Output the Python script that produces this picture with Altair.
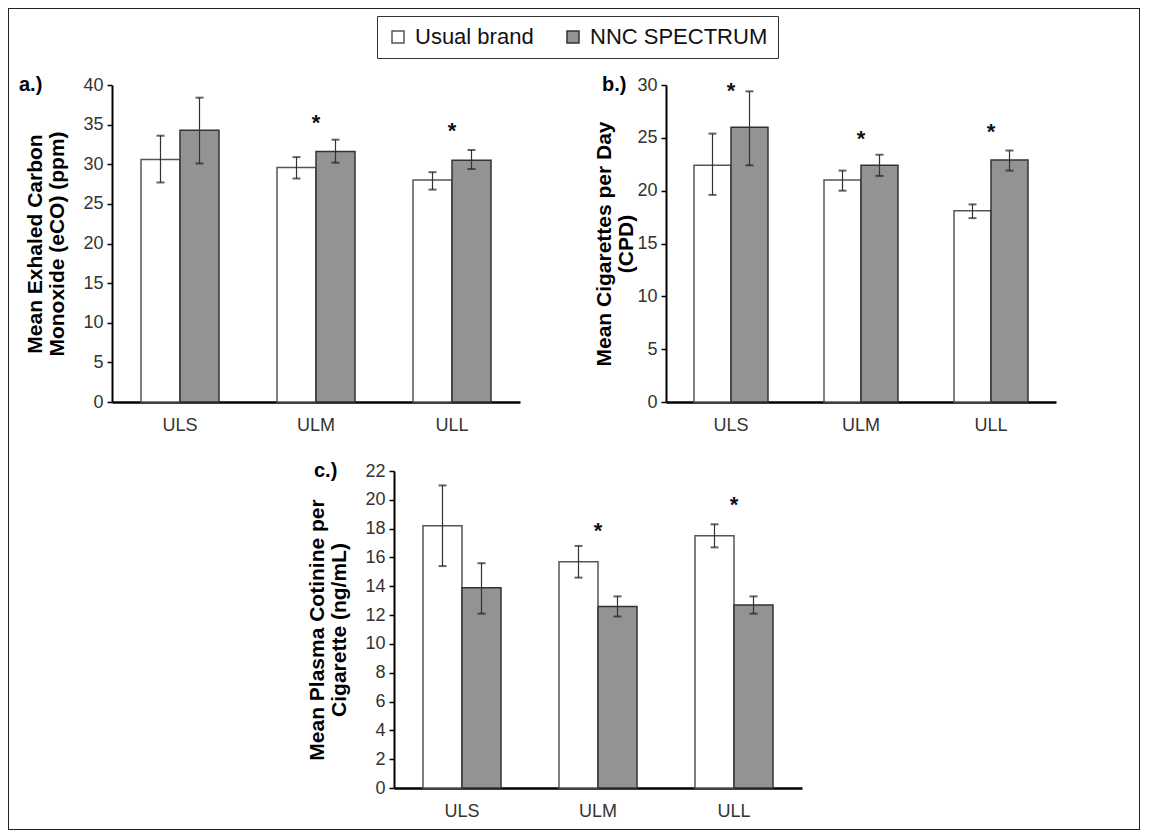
import altair as alt
import pandas as pd

categories = ["ULS", "ULM", "ULL"]
groups = ["Usual brand", "NNC SPECTRUM"]

# Panel a: exhaled CO (ppm)
eco_usual = [30.6, 29.6, 28.0]
eco_usual_lo = [27.7, 28.2, 26.8]
eco_usual_hi = [33.6, 30.9, 29.0]
eco_nnc = [34.3, 31.6, 30.5]
eco_nnc_lo = [30.1, 30.2, 29.4]
eco_nnc_hi = [38.4, 33.1, 31.8]
eco_star_cats = ["ULM", "ULL"]
eco_star_y = [35.5, 34.4]

# Panel b: cigarettes per day
cpd_usual = [22.4, 21.0, 18.1]
cpd_usual_lo = [19.6, 20.0, 17.4]
cpd_usual_hi = [25.4, 21.9, 18.7]
cpd_nnc = [26.0, 22.4, 22.9]
cpd_nnc_lo = [22.4, 21.4, 21.9]
cpd_nnc_hi = [29.4, 23.4, 23.8]
cpd_star_cats = ["ULS", "ULM", "ULL"]
cpd_star_y = [29.6, 25.1, 25.7]

# Panel c: plasma cotinine per cigarette (ng/mL)
cot_usual = [18.2, 15.7, 17.5]
cot_usual_lo = [15.4, 14.6, 16.7]
cot_usual_hi = [21.0, 16.8, 18.3]
cot_nnc = [13.9, 12.6, 12.7]
cot_nnc_lo = [12.1, 11.9, 12.1]
cot_nnc_hi = [15.6, 13.3, 13.3]
cot_star_cats = ["ULM", "ULL"]
cot_star_y = [18.0, 19.8]

FONT = "Liberation Sans"
W, H = 1132, 822

fill_scale = alt.Scale(domain=groups, range=["#ffffff", "#939393"])
stroke_scale = alt.Scale(domain=groups, range=["#555555", "#333333"])
legend = alt.Legend(
    orient="none", legendX=369, legendY=8, direction="horizontal", title=None,
    labelFontSize=22, labelFont=FONT, labelColor="#111111", labelLimit=400,
    symbolType="square", symbolSize=144, symbolStrokeColor="#333333",
    symbolStrokeWidth=1.5, columnPadding=28, labelOffset=6, padding=10,
    strokeColor="#333333", fillColor="white",
)


def make_df(u, ulo, uhi, n, nlo, nhi):
    rows = []
    for i, c in enumerate(categories):
        rows.append({"cat": c, "group": groups[0], "mean": u[i], "lo": ulo[i], "hi": uhi[i]})
        rows.append({"cat": c, "group": groups[1], "mean": n[i], "lo": nlo[i], "hi": nhi[i]})
    return pd.DataFrame(rows)


def panel(df, star_cats, star_y, label, ymax, yvals, title_lines,
          xrange, yrange, pin, pout, yoff, xoff, title_x, label_x):
    xs = alt.Scale(domain=categories, range=xrange, paddingInner=pin, paddingOuter=pout)
    ys = alt.Scale(domain=[0, ymax], range=yrange, nice=False, zero=True)
    xax = alt.Axis(orient="bottom", offset=xoff, title=None, ticks=False, labelAngle=0,
                   labelPadding=14, labelFontSize=18, labelFont=FONT, labelColor="#333333",
                   domainColor="#000000", domainWidth=2.5, grid=False)
    yax = alt.Axis(orient="left", offset=yoff, values=yvals, title=title_lines,
                   titleFontSize=21, titleFont=FONT, titleFontWeight="bold", titleColor="#000000",
                   titleLineHeight=22, titleX=title_x, labelFontSize=18, labelFont=FONT,
                   labelColor="#333333", labelPadding=4, tickSize=5, tickWidth=1.5,
                   tickColor="#000000", domainColor="#000000", domainWidth=2, grid=False)
    X = alt.X("cat:N", scale=xs, axis=xax, sort=categories)
    XO = alt.XOffset("group:N", scale=alt.Scale(domain=groups), sort=groups)

    bars = alt.Chart(df).mark_bar(strokeWidth=1.5).encode(
        x=X, xOffset=XO,
        y=alt.Y("mean:Q", scale=ys, axis=yax),
        fill=alt.Fill("group:N", scale=fill_scale, legend=legend),
        stroke=alt.Stroke("group:N", scale=stroke_scale, legend=None),
    )
    rules = alt.Chart(df).mark_rule(color="#333333", strokeWidth=1.2).encode(
        x=X, xOffset=XO,
        y=alt.Y("lo:Q", scale=ys, axis=yax), y2="hi:Q",
    )
    cap_lo = alt.Chart(df).mark_tick(size=8, thickness=2, color="#222222").encode(
        x=X, xOffset=XO, y=alt.Y("lo:Q", scale=ys, axis=yax),
    )
    cap_hi = alt.Chart(df).mark_tick(size=8, thickness=2, color="#222222").encode(
        x=X, xOffset=XO, y=alt.Y("hi:Q", scale=ys, axis=yax),
    )
    star_df = pd.DataFrame({"cat": star_cats, "y": star_y, "s": ["*"] * len(star_cats)})
    stars = alt.Chart(star_df).mark_text(
        fontSize=22, fontWeight="bold", font=FONT, baseline="alphabetic", dy=9, color="#111111"
    ).encode(x=X, y=alt.Y("y:Q", scale=ys, axis=yax), text="s:N")
    lab_df = pd.DataFrame({"label": [label], "y": [ymax]})
    lab = alt.Chart(lab_df).mark_text(
        fontSize=20, fontWeight="bold", font=FONT, align="left", baseline="middle", color="#000000"
    ).encode(x=alt.value(label_x), y=alt.Y("y:Q", scale=ys, axis=yax), text="label:N")
    return alt.layer(bars, rules, cap_lo, cap_hi, stars, lab)


df_a = make_df(eco_usual, eco_usual_lo, eco_usual_hi, eco_nnc, eco_nnc_lo, eco_nnc_hi)
df_b = make_df(cpd_usual, cpd_usual_lo, cpd_usual_hi, cpd_nnc, cpd_nnc_lo, cpd_nnc_hi)
df_c = make_df(cot_usual, cot_usual_lo, cot_usual_hi, cot_nnc, cot_nnc_lo, cot_nnc_hi)

pa = panel(df_a, eco_star_cats, eco_star_y, "a.)", 40, list(range(0, 41, 5)),
           ["Mean Exhaled Carbon", "Monoxide (eCO) (ppm)"],
           [104, 512], [394, 77], 0.4265, 0.2132, -104, 394 - H, -67, 11)
pb = panel(df_b, cpd_star_cats, cpd_star_y, "b.)", 30, list(range(0, 31, 5)),
           ["Mean Cigarettes per Day", "(CPD)"],
           [658, 1048], [394, 77], 0.4308, 0.2154, -658, 394 - H, -52, 594)
pc = panel(df_c, cot_star_cats, cot_star_y, "c.)", 22, list(range(0, 23, 2)),
           ["Mean Plasma Cotinine per", "Cigarette (ng/mL)"],
           [386, 794], [780, 463], 0.4265, 0.2132, -386, 780 - H, -67, 306)

chart = alt.layer(pa, pb, pc).resolve_scale(
    x="independent", y="independent", xOffset="independent"
).resolve_axis(
    x="independent", y="independent"
).properties(
    width=W, height=H, padding=0, background="white"
).configure_view(
    stroke="#222222", strokeWidth=2
)

chart.save("out.html", embed_options={"renderer": "svg", "actions": False})
